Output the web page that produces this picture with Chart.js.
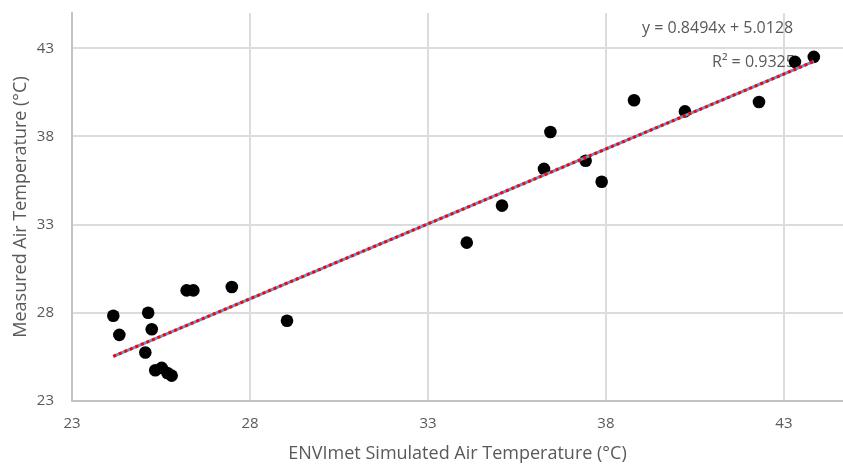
<!DOCTYPE html>
<html>
<head>
<meta charset="utf-8">
<script src="https://cdn.jsdelivr.net/npm/chart.js@4.4.1/dist/chart.umd.min.js"></script>
<style>
html,body{margin:0;padding:0;background:#fff;overflow:hidden}
canvas{display:block}
</style>
</head>
<body>
<canvas id="c" width="843" height="465"></canvas>
<script>
// ENVImet simulated air temperature (x) vs measured air temperature (y), °C
const simulatedTemp = [24.16, 24.33, 25.14, 25.24, 25.06, 25.34, 25.52, 25.68, 25.80, 26.22, 26.41, 27.49,
                       29.04, 34.09, 35.08, 36.26, 36.44, 37.43, 37.88, 38.79, 40.22, 42.30, 43.31, 43.84];
const measuredTemp  = [27.83, 26.75, 28.00, 27.07, 25.75, 24.74, 24.88, 24.59, 24.44, 29.27, 29.27, 29.46,
                       27.55, 31.98, 34.08, 36.16, 38.25, 36.62, 35.43, 40.05, 39.42, 39.95, 42.23, 42.51];
const tickValues = [23, 28, 33, 38, 43];
const trendSlope = 0.8494;
const trendIntercept = 5.0128;
const rSquared = 0.9325;
const xAxisTitle = 'ENVImet Simulated Air Temperature (°C)';
const yAxisTitle = 'Measured Air Temperature (°C)';

const points = simulatedTemp.map((x, i) => ({x: x, y: measuredTemp[i]}));
const xMin = Math.min(...simulatedTemp), xMax = Math.max(...simulatedTemp);
const trendPoints = [xMin, xMax].map(x => ({x: x, y: trendSlope * x + trendIntercept}));

const textColor = '#595959';
const fontFamily = '"Open Sans", sans-serif';

const trendLabels = {
  id: 'trendLabels',
  beforeDatasetsDraw(chart) {
    const ctx = chart.ctx;
    ctx.save();
    ctx.font = '16px ' + fontFamily;
    ctx.fillStyle = textColor;
    ctx.textAlign = 'left';
    ctx.textBaseline = 'middle';
    ctx.fillText('y = ' + trendSlope + 'x + ' + trendIntercept, 642, 28);
    ctx.fillText('R² = ' + rSquared, 712, 62);
    ctx.restore();
  }
};

const setTicks = scale => { scale.ticks = tickValues.map(v => ({value: v})); };
const noPad = s => { s.paddingTop = 0; s.paddingBottom = 0; s.paddingLeft = 0; s.paddingRight = 0; };

new Chart(document.getElementById('c'), {
  type: 'scatter',
  data: {
    datasets: [
      {
        label: 'Trend (dash)',
        data: trendPoints,
        showLine: true,
        borderColor: '#ff0000',
        borderWidth: 3,
        borderDash: [3, 3],
        pointRadius: 0,
        fill: false
      },
      {
        label: 'Trend',
        data: trendPoints,
        showLine: true,
        borderColor: '#6f8fc9',
        borderWidth: 3,
        pointRadius: 0,
        fill: false
      },
      {
        label: 'Measured',
        data: points,
        backgroundColor: '#000000',
        borderWidth: 0,
        pointRadius: 6.3,
        pointHoverRadius: 6.3
      }
    ]
  },
  options: {
    responsive: false,
    animation: false,
    devicePixelRatio: 1,
    layout: {autoPadding: false, padding: {top: 13, left: 0, right: 0, bottom: 0}},
    plugins: {legend: {display: false}, tooltip: {enabled: false}},
    scales: {
      x: {
        type: 'linear',
        min: 23,
        max: 44.66,
        afterBuildTicks: setTicks,
        afterFit: s => { s.height = 64; noPad(s); },
        grid: {color: '#dcdcdc', lineWidth: 2, drawTicks: false},
        border: {color: '#c3c3c3', width: 2},
        ticks: {color: textColor, font: {family: fontFamily, size: 15}, padding: 14},
        title: {display: true, text: xAxisTitle, color: textColor,
                font: {family: fontFamily, size: 18}, padding: {top: 0, bottom: 0}}
      },
      y: {
        type: 'linear',
        min: 23,
        max: 45,
        afterBuildTicks: setTicks,
        afterFit: s => { s.width = 72; noPad(s); },
        grid: {color: '#dcdcdc', lineWidth: 2, drawTicks: false},
        border: {color: '#c3c3c3', width: 2},
        ticks: {color: textColor, font: {family: fontFamily, size: 15}, padding: 18},
        title: {display: true, text: yAxisTitle, color: textColor,
                font: {family: fontFamily, size: 18}, padding: {top: 10, bottom: 0}}
      }
    }
  },
  plugins: [trendLabels]
});
</script>
</body>
</html>
